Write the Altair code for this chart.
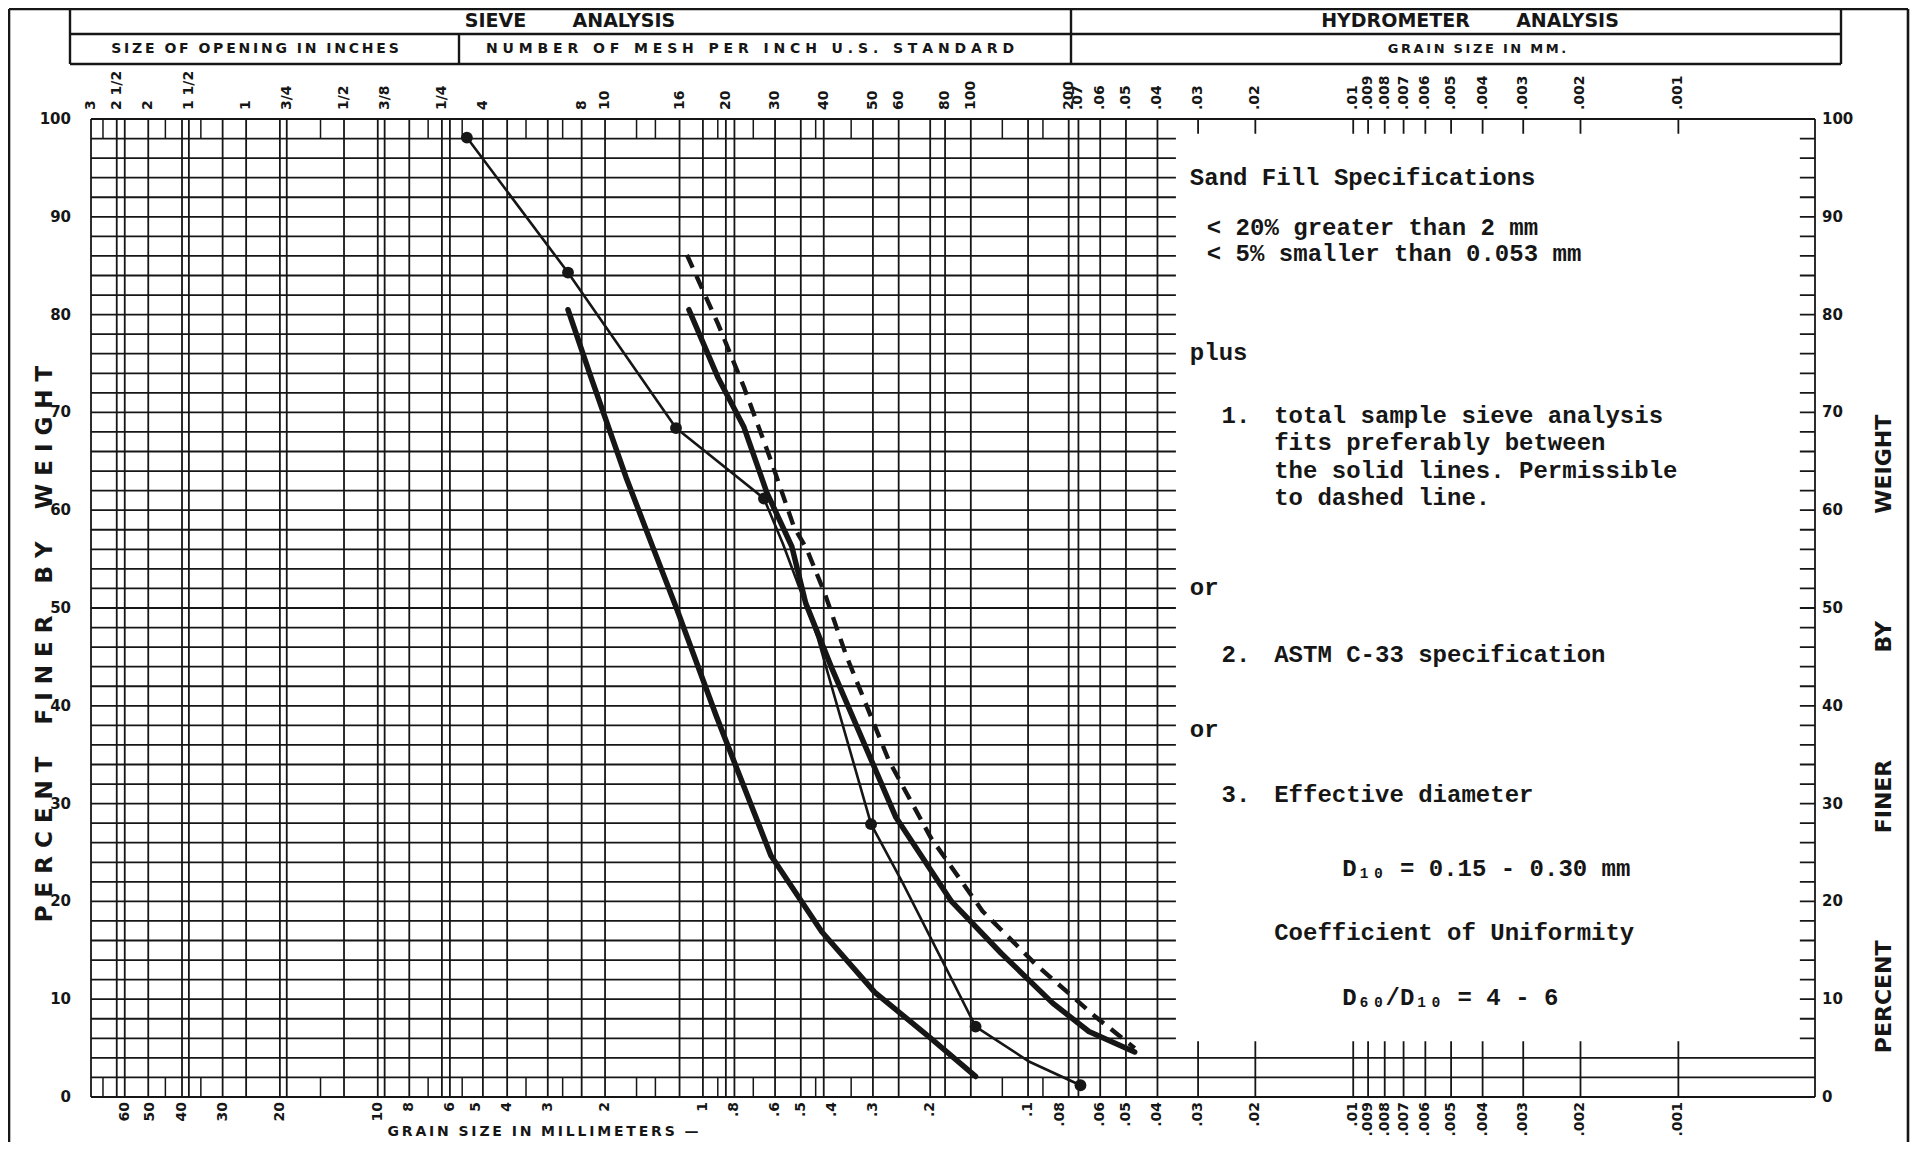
import altair as alt
import pandas as pd

# ---------------- values ----------------
# percent finer axis
pct_ticks = [0, 10, 20, 30, 40, 50, 60, 70, 80, 90, 100]
pct_lines = list(range(0, 101, 2))

# bottom scale: grain size in millimetres
bottom_mm = [60, 50, 40, 30, 20, 10, 8, 6, 5, 4, 3, 2, 1, 0.8, 0.6, 0.5, 0.4, 0.3, 0.2, 0.1,
             0.08, 0.06, 0.05, 0.04, 0.03, 0.02, 0.01, 0.009, 0.008, 0.007, 0.006, 0.005,
             0.004, 0.003, 0.002, 0.001]
bottom_lbl = ["60", "50", "40", "30", "20", "10", "8", "6", "5", "4", "3", "2", "1", ".8", ".6",
              ".5", ".4", ".3", ".2", ".1", ".08", ".06", ".05", ".04", ".03", ".02", ".01",
              ".009", ".008", ".007", ".006", ".005", ".004", ".003", ".002", ".001"]

# top scale: sieve openings (inches), U.S. standard mesh numbers, hydrometer sizes
top_mm = [76.2, 63.5, 50.8, 38.1, 25.4, 19.05, 12.7, 9.525, 6.35, 4.75, 2.36, 2.0, 1.18, 0.85,
          0.6, 0.425, 0.3, 0.25, 0.18, 0.15, 0.075, 0.07, 0.06, 0.05, 0.04, 0.03, 0.02, 0.01,
          0.009, 0.008, 0.007, 0.006, 0.005, 0.004, 0.003, 0.002, 0.001]
top_lbl = ["3", "2 1/2", "2", "1 1/2", "1", "3/4", "1/2", "3/8", "1/4", "4", "8", "10", "16",
           "20", "30", "40", "50", "60", "80", "100", "200", ".07", ".06", ".05", ".04", ".03",
           ".02", ".01", ".009", ".008", ".007", ".006", ".005", ".004", ".003", ".002", ".001"]

# vertical rulings of the chart paper
grid_mm = [76.2, 63.5, 60, 50.8, 40, 38.1, 30, 25.4, 20, 19.05, 12.7, 10, 9.525, 8, 6.35, 6,
           4.75, 4, 3, 2.36, 2.0, 1.18, 1, 0.85, 0.8, 0.6, 0.5, 0.425, 0.3, 0.25, 0.2, 0.18,
           0.15, 0.1, 0.075, 0.07, 0.06, 0.05, 0.04, 0.03, 0.02, 0.01, 0.009, 0.008, 0.007,
           0.006, 0.005, 0.004, 0.003, 0.002, 0.001, 0.00038]
minor_mm = [70, 45, 35, 15, 7, 5.5, 3.5, 2.7, 1.6, 1.4, 0.9, 0.7, 0.45, 0.35, 0.12, 0.09]

# sample gradation curve (thin line with plotted points)
sample_mm = [5.32, 2.60, 1.21, 0.649, 0.568, 0.476, 0.443, 0.304, 0.243, 0.177, 0.145, 0.099, 0.069]
sample_pct = [98.1, 84.3, 68.4, 61.2, 56.6, 49.8, 46.9, 27.9, 21.9, 12.9, 7.2, 3.6, 1.2]
point_mm = [5.32, 2.60, 1.21, 0.649, 0.304, 0.145, 0.069]
point_pct = [98.1, 84.3, 68.4, 61.2, 27.9, 7.2, 1.2]

# coarse (left) solid limit
coarse_mm = [2.60, 2.21, 1.725, 1.425, 1.20, 0.906, 0.618, 0.431, 0.296, 0.199, 0.145]
coarse_pct = [80.5, 73.6, 63.4, 56.2, 49.8, 38.8, 24.7, 16.9, 10.7, 6.0, 2.1]

# fine (right) solid limit
fine_mm = [1.104, 0.90, 0.748, 0.636, 0.533, 0.483, 0.401, 0.255, 0.172, 0.121, 0.084, 0.065, 0.047]
fine_pct = [80.5, 73.6, 68.5, 61.8, 56.3, 50.5, 43.8, 28.6, 20.0, 14.7, 9.6, 6.7, 4.6]

# permissible (dashed) limit
dashed_mm = [1.12, 0.90, 0.748, 0.618, 0.525, 0.479, 0.422, 0.363, 0.268, 0.199, 0.138, 0.095, 0.062, 0.047]
dashed_pct = [86.1, 79.1, 72.6, 65.1, 58.3, 56.0, 51.5, 45.2, 34.4, 26.5, 19.0, 13.6, 8.2, 5.0]

# typed specification sheet
spec_text = ["Sand Fill Specifications", "< 20% greater than 2 mm", "< 5% smaller than 0.053 mm",
             "plus", "1.", "total sample sieve analysis", "fits preferably between",
             "the solid lines. Permissible", "to dashed line.", "or", "2.",
             "ASTM C-33 specification", "or", "3.", "Effective diameter",
             "D\u2081\u2080 = 0.15 - 0.30 mm", "Coefficient of Uniformity",
             "D\u2086\u2080/D\u2081\u2080 = 4 - 6"]

# ---------------- layout (anchors, not data) ----------------
spec_at_pct = [94.0, 88.9, 86.2, 76.1, 69.6, 69.6, 66.9, 64.0, 61.2, 52.0, 45.2, 45.2, 37.5,
               30.9, 30.9, 23.3, 16.8, 10.1]
spec_at_mm = [0.0318, 0.0282, 0.0282, 0.0318, 0.0254, 0.0175, 0.0175, 0.0175, 0.0175, 0.0318,
              0.0254, 0.0175, 0.0318, 0.0254, 0.0175, 0.0108, 0.0175, 0.0108]
sheet_box = {"a": [0.0351], "b": [0.000423], "lo": [5.7], "hi": [98.5]}

INK = "#161616"
W, H = 1724, 978
XS = alt.Scale(type="log", domain=[0.00038, 76.2], reverse=True, nice=False)
YS = alt.Scale(domain=[0, 100], nice=False, zero=False)
ONE = pd.DataFrame({"k": [0]})
NB = "\u00a0"


def spaced(s, sep, word_gap):
    return word_gap.join(sep.join(w) for w in s.split(" "))


def xq(f):
    return alt.X(f"{f}:Q", scale=XS, axis=None)


def yq(f):
    return alt.Y(f"{f}:Q", scale=YS, axis=None)


def txt(s, x, y, size, angle=0, align="center", weight="bold", font="DejaVu Sans"):
    return alt.Chart(ONE).mark_text(text=s, fontSize=size, angle=angle, align=align,
                                    baseline="middle", fontWeight=weight, font=font,
                                    color=INK).encode(x=alt.value(x), y=alt.value(y))


def hl(x1, x2, y, w=2.4):
    return alt.Chart(ONE).mark_rule(color=INK, strokeWidth=w).encode(
        x=alt.value(x1), x2=alt.value(x2), y=alt.value(y))


def vl(x, y1, y2, w=2.4):
    return alt.Chart(ONE).mark_rule(color=INK, strokeWidth=w).encode(
        x=alt.value(x), y=alt.value(y1), y2=alt.value(y2))


def curve(mm, pct, width, dash=None):
    df = pd.DataFrame({"mm": mm, "pct": pct, "i": list(range(len(mm)))})
    kw = dict(color=INK, strokeWidth=width, strokeJoin="round")
    if dash:
        kw["strokeDash"] = dash
    else:
        kw["strokeCap"] = "round"
    return alt.Chart(df).mark_line(**kw).encode(x=xq("mm"), y=yq("pct"), order="i:Q")


layers = []

# chart paper rulings
layers.append(alt.Chart(pd.DataFrame({"pct": pct_lines})).mark_rule(color=INK, strokeWidth=1.8)
              .encode(y=yq("pct"), x=alt.value(0), x2=alt.value(W)))
layers.append(alt.Chart(pd.DataFrame({"mm": grid_mm})).mark_rule(color=INK, strokeWidth=1.8)
              .encode(x=xq("mm"), y=alt.value(0), y2=alt.value(H)))
minor_rows = [{"mm": m, "y1": a, "y2": b} for m in minor_mm for (a, b) in [(0, 2), (98, 100)]]
layers.append(alt.Chart(pd.DataFrame(minor_rows)).mark_rule(color=INK, strokeWidth=1.5)
              .encode(x=xq("mm"), y=yq("y1"), y2=alt.Y2("y2")))

# pasted specification sheet
layers.append(alt.Chart(pd.DataFrame(sheet_box)).mark_rect(fill="white", opacity=1, strokeWidth=0)
              .encode(x=xq("a"), x2=alt.X2("b"), y=yq("lo"), y2=alt.Y2("hi")))

# curves
layers.append(curve(coarse_mm, coarse_pct, 5.5))
layers.append(curve(fine_mm, fine_pct, 5.5))
layers.append(curve(dashed_mm, dashed_pct, 4.4, dash=[14, 9]))
layers.append(curve(sample_mm, sample_pct, 2.6))
layers.append(alt.Chart(pd.DataFrame({"mm": point_mm, "pct": point_pct}))
              .mark_circle(size=140, color=INK, opacity=1)
              .encode(x=xq("mm"), y=yq("pct")))

# specification text
spec_df = pd.DataFrame({"t": spec_text, "mm": spec_at_mm, "pct": spec_at_pct})
layers.append(alt.Chart(spec_df).mark_text(align="left", baseline="middle", font="Liberation Mono",
                                           fontSize=24, fontWeight="bold", color=INK)
              .encode(x=xq("mm"), y=yq("pct"), text="t:N"))

# percent labels, both sides
pct_df = pd.DataFrame({"pct": pct_ticks, "lbl": [str(v) for v in pct_ticks]})
layers.append(alt.Chart(pct_df).mark_text(align="right", baseline="middle", fontSize=15,
                                          fontWeight="bold", font="DejaVu Sans", color=INK)
              .encode(y=yq("pct"), x=alt.value(-20), text="lbl:N"))
layers.append(alt.Chart(pct_df).mark_text(align="left", baseline="middle", fontSize=15,
                                          fontWeight="bold", font="DejaVu Sans", color=INK)
              .encode(y=yq("pct"), x=alt.value(W + 7), text="lbl:N"))

# size labels top and bottom (rotated)
layers.append(alt.Chart(pd.DataFrame({"mm": top_mm, "lbl": top_lbl}))
              .mark_text(angle=270, align="left", baseline="middle", fontSize=14,
                         fontWeight="bold", font="DejaVu Sans", color=INK)
              .encode(x=xq("mm"), y=alt.value(-9), text="lbl:N"))
layers.append(alt.Chart(pd.DataFrame({"mm": bottom_mm, "lbl": bottom_lbl}))
              .mark_text(angle=270, align="right", baseline="middle", fontSize=14,
                         fontWeight="bold", font="DejaVu Sans", color=INK)
              .encode(x=xq("mm"), y=alt.value(H + 5), text="lbl:N"))

# titles
left_title = spaced("PERCENT FINER BY WEIGHT", NB, NB * 4)
right_title = (NB * 14).join(["PERCENT", "FINER", "BY", "WEIGHT"])
layers.append(txt(left_title, -46, 525, 23, angle=270))
layers.append(txt(right_title, 1793, 615, 22, angle=270))
layers.append(txt(spaced("GRAIN SIZE IN MILLIMETERS \u2014", "\u2009", NB * 2), 452, 1013, 14))

# header form
layers.append(hl(-82, 1817, -110, 2.6))
layers.append(vl(-82, -110, 1023, 2.6))
layers.append(vl(1817, -110, 1023, 2.6))
layers.append(vl(-21, -110, -55))
layers.append(vl(1750, -110, -55))
layers.append(hl(-21, 1750, -85))
layers.append(hl(-21, 1750, -55))
layers.append(vl(980, -110, -55))
layers.append(vl(368, -85, -55))
layers.append(txt("SIEVE" + NB * 7 + "ANALYSIS", 479, -98, 19))
layers.append(txt("HYDROMETER" + NB * 7 + "ANALYSIS", 1379, -98, 19))
layers.append(txt(spaced("SIZE OF OPENING IN INCHES", "\u2009", NB * 2), 164, -70, 14))
layers.append(txt(spaced("NUMBER OF MESH PER INCH U.S. STANDARD", NB, NB * 3), 659, -70, 14))
layers.append(txt(spaced("GRAIN SIZE IN MM.", "\u2009", NB * 2), 1386, -70, 13))

chart = alt.layer(*layers).properties(
    width=W, height=H,
    padding={"left": 83, "top": 111, "right": 95, "bottom": 45},
    autosize=alt.AutoSizeParams(type="none"),
    background="white",
).configure_view(strokeWidth=0)

chart.save("out.html", embed_options={"renderer": "svg", "actions": False})
